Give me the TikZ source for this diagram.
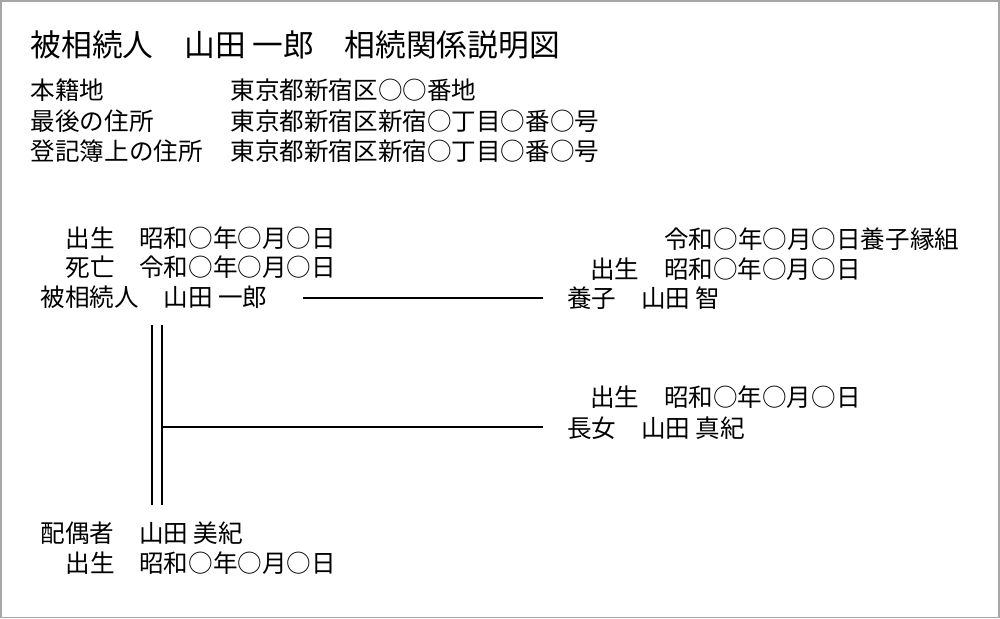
\documentclass[tikz,border=0pt]{standalone}
\usepackage{fontspec}
\setmainfont{Noto Sans CJK JP}
\usetikzlibrary{positioning,calc}
\tikzset{
  txt/.style={anchor=west,inner sep=0pt,font=\fontsize{14pt}{16pt}\selectfont},
  ttl/.style={anchor=west,inner sep=0pt,font=\fontsize{17.5pt}{20pt}\selectfont},
  rel/.style={line width=0.9pt}
}
\begin{document}
\begin{tikzpicture}[x=0.02cm,y=-0.02cm]
  \draw[gray!70,line width=1pt] (0.5,0.5) rectangle (999.5,617.5);
  % header
  \node[ttl] (title) at (30,45) {被相続人　山田 一郎　相続関係説明図};
  \node[txt] (honL) at (30,90) {本籍地};
  \node[txt] (honR) at (230,90) {東京都新宿区○○番地};
  \node[txt] (saiL) at (30,121) {最後の住所};
  \node[txt] (saiR) at (230,121) {東京都新宿区新宿○丁目○番○号};
  \node[txt] (touL) at (30,151) {登記簿上の住所};
  \node[txt] (touR) at (230,151) {東京都新宿区新宿○丁目○番○号};
  % deceased
  \node[txt] (hbirth) at (65,238) {出生　昭和○年○月○日};
  \node[txt] (hdeath) at (65,267) {死亡　令和○年○月○日};
  \node[txt] (hisou) at (40,297) {被相続人　山田 一郎};
  % adopted son
  \node[txt,anchor=east] (yadopt) at (960,239) {令和○年○月○日養子縁組};
  \node[txt] (ybirth) at (590,269) {出生　昭和○年○月○日};
  \node[txt] (yousi) at (567,298) {養子　山田 智};
  % daughter
  \node[txt] (cbirth) at (590,397) {出生　昭和○年○月○日};
  \node[txt] (chou) at (567,428) {長女　山田 真紀};
  % spouse
  \node[txt] (spouse) at (40,533) {配偶者　山田 美紀};
  \node[txt] (sbirth) at (65,563) {出生　昭和○年○月○日};
  % lines
  \coordinate (dtop) at (157,325);
  \coordinate (dbot) at (157,505);
  \coordinate (branch) at (162,427);
  \draw[rel] (303,298) -- ($(yousi.west)+(-24,0)$);
  \draw[rel] ($(dtop)+(-5,0)$) -- ($(dbot)+(-5,0)$);
  \draw[rel] ($(dtop)+(5,0)$) -- ($(dbot)+(5,0)$);
  \draw[rel] (branch) -- ($(chou.west)+(-24,-1)$);
\end{tikzpicture}
\end{document}
